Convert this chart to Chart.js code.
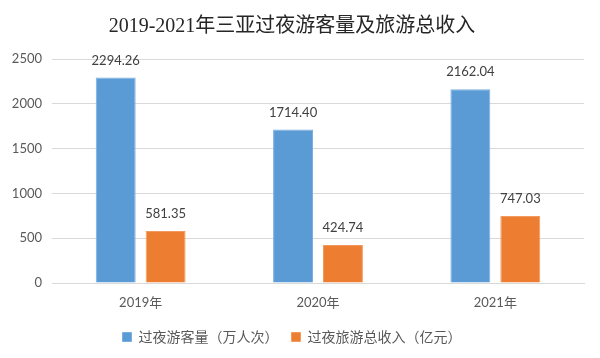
<!DOCTYPE html>
<html>
<head>
<meta charset="utf-8">
<script src="https://cdn.jsdelivr.net/npm/chart.js@4"></script>
<style>
    html, body { margin: 0; padding: 0; background: #fff; }
    #wrap { width: 600px; height: 358px; }
</style>
</head>
<body>
<div id="wrap"><canvas id="sanyaChart" width="600" height="358"></canvas></div>
<script>
const years = ["2019年", "2020年", "2021年"]
const visitors = [2294.26, 1714.40, 2162.04]
const income = [581.35, 424.74, 747.03]
const yTicks = [0, 500, 1000, 1500, 2000, 2500]

const sansFont = "Lato, 'Noto Sans CJK SC', sans-serif"

Chart.defaults.font.family = sansFont
Chart.defaults.color = '#595959'
Chart.defaults.animation = false
Chart.defaults.responsive = false

// draws the value above each bar
const barValues = {
    id: 'barValues',
    afterDatasetsDraw(chart) {
        const ctx = chart.ctx
        ctx.save()
        ctx.font = "13px " + sansFont
        ctx.fillStyle = '#404040'
        ctx.textAlign = 'center'
        ctx.textBaseline = 'middle'
        chart.data.datasets.forEach((ds, i) => {
            chart.getDatasetMeta(i).data.forEach((bar, j) => {
                ctx.fillText(ds.data[j].toFixed(2), bar.x, bar.y - 17)
            })
        })
        ctx.restore()
    }
}

new Chart(document.getElementById("sanyaChart"), {
    type: 'bar',
    data: {
        labels: years,
        datasets: [
            {
                label: "过夜游客量（万人次）",
                data: visitors,
                backgroundColor: '#5b9bd5',
                borderColor: '#7aaee0',
                borderWidth: 1
            }, {
                label: "过夜旅游总收入（亿元）",
                data: income,
                backgroundColor: '#ed7d31',
                borderColor: '#f29a5e',
                borderWidth: 1
            }
        ]
    },
    options: {
        maintainAspectRatio: false,
        categoryPercentage: 0.563,
        barPercentage: 0.8,
        layout: {
            padding: { left: 0, right: 16, top: 0, bottom: 4 }
        },
        plugins: {
            title: {
                display: true,
                text: "2019-2021年三亚过夜游客量及旅游总收入",
                color: '#262626',
                font: { family: "'Liberation Serif', 'Noto Sans CJK SC', serif", size: 20, weight: 'normal' },
                padding: { top: 15, bottom: 20 }
            },
            legend: {
                position: 'bottom',
                labels: {
                    boxWidth: 9,
                    boxHeight: 9,
                    padding: 13,
                    color: '#595959',
                    font: { size: 14 }
                }
            },
            tooltip: { enabled: false }
        },
        scales: {
            x: {
                grid: { display: false },
                border: { color: '#d9d9d9', width: 1 },
                afterFit: scale => { scale.height = 34 },
                ticks: { font: { size: 13 }, padding: 4, color: '#595959' }
            },
            y: {
                min: 0,
                max: 2500,
                afterBuildTicks: scale => {
                    scale.ticks = yTicks.map(v => ({ value: v }))
                },
                afterFit: scale => { scale.width = 52 },
                grid: { color: '#d9d9d9', drawTicks: false },
                border: { display: false },
                ticks: {
                    font: { size: 13 },
                    padding: 10,
                    color: '#595959',
                    callback: v => String(v)
                }
            }
        }
    },
    plugins: [barValues]
})
</script>
</body>
</html>
